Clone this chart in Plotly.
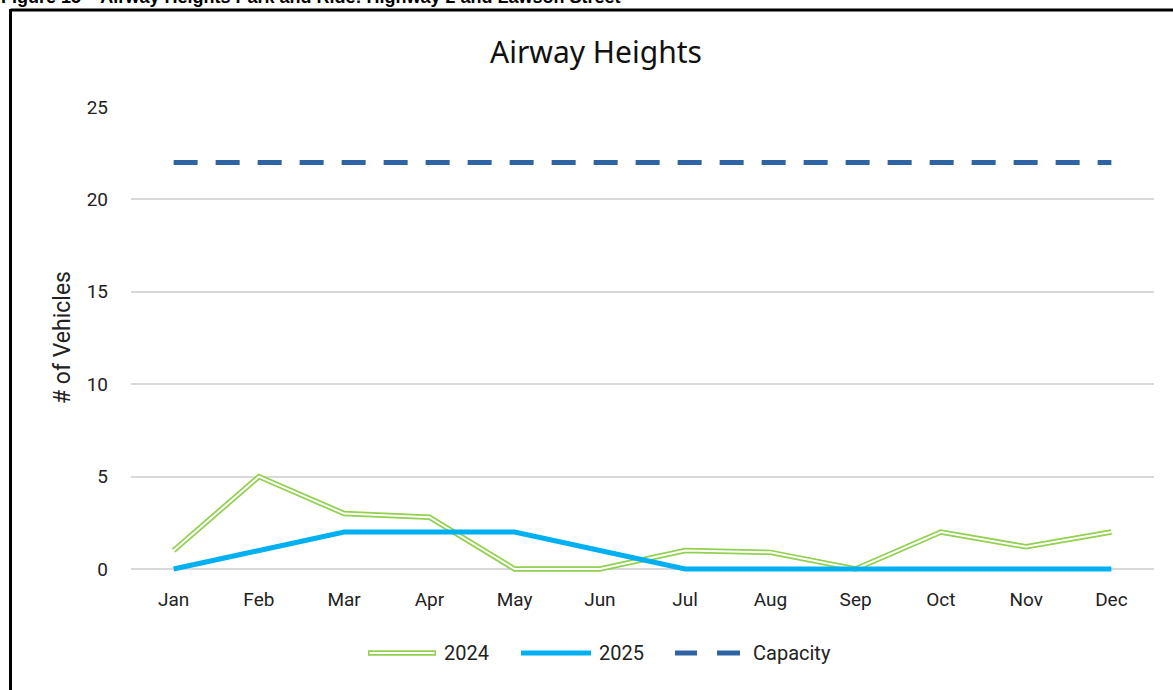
import plotly.graph_objects as go

# Monthly vehicle counts at the Airway Heights park and ride
months = ["Jan", "Feb", "Mar", "Apr", "May", "Jun", "Jul", "Aug", "Sep", "Oct", "Nov", "Dec"]
vehicles_2024 = [1, 5, 3, 2.8, 0, 0, 1, 0.9, 0, 2, 1.2, 2]
vehicles_2025 = [0, 1, 2, 2, 2, 1, 0, 0, 0, 0, 0, 0]
capacity = [22] * 12
y_ticks = [0, 5, 10, 15, 20, 25]

GREEN = "#92D050"
BLUE = "#00B0F0"
NAVY = "#2E64A4"
FONT = "Roboto"

W, H = 1173, 690
L, R, T, B = 131, 19, 107, 117
PW, PH = W - L - R, H - T - B
ZERO_PX = 569                      # pixel row of the value 0
UNIT_PX = (ZERO_PX - T) / 25.0     # pixels per vehicle
Y_MIN = -(H - B - ZERO_PX) / UNIT_PX   # a little room below 0 so thick lines are not cut


def px_x(px):
    return (px - L) / PW


def px_y(py):
    return (H - B - py) / PH


fig = go.Figure()

# 2024: compound (double) line -> thick green stroke with a white core
fig.add_trace(go.Scatter(x=months, y=vehicles_2024, mode="lines", name="2024",
                         line=dict(color=GREEN, width=5.5), showlegend=False,
                         hoverinfo="skip"))
fig.add_trace(go.Scatter(x=months, y=vehicles_2024, mode="lines", name="2024",
                         line=dict(color="white", width=2), showlegend=False))
fig.add_trace(go.Scatter(x=months, y=vehicles_2025, mode="lines", name="2025",
                         line=dict(color=BLUE, width=5), showlegend=False))
fig.add_trace(go.Scatter(x=months, y=capacity, mode="lines", name="Capacity",
                         line=dict(color=NAVY, width=5, dash="24px,18px"),
                         showlegend=False))

shapes = []
annotations = []

# Frame around the chart
shapes.append(dict(type="line", xref="paper", yref="paper",
                   x0=px_x(10.5), x1=px_x(W + 5), y0=px_y(10), y1=px_y(10),
                   line=dict(color="black", width=3)))
shapes.append(dict(type="line", xref="paper", yref="paper",
                   x0=px_x(10.5), x1=px_x(10.5), y0=px_y(9), y1=px_y(H + 5),
                   line=dict(color="black", width=3)))

# Legend drawn along the bottom
ly = px_y(653)
shapes.append(dict(type="line", xref="paper", yref="paper",
                   x0=px_x(368), x1=px_x(436), y0=ly, y1=ly,
                   line=dict(color=GREEN, width=5.5)))
shapes.append(dict(type="line", xref="paper", yref="paper",
                   x0=px_x(369.5), x1=px_x(434.5), y0=ly, y1=ly,
                   line=dict(color="white", width=2)))
shapes.append(dict(type="line", xref="paper", yref="paper",
                   x0=px_x(521), x1=px_x(591), y0=ly, y1=ly,
                   line=dict(color=BLUE, width=5)))
for a, b in [(675, 697), (717, 740)]:
    shapes.append(dict(type="line", xref="paper", yref="paper",
                       x0=px_x(a), x1=px_x(b), y0=ly, y1=ly,
                       line=dict(color=NAVY, width=5)))
for label, xpos in [("2024", 442), ("2025", 597), ("Capacity", 751)]:
    annotations.append(dict(text=label, xref="paper", yref="paper",
                            x=px_x(xpos), y=ly, xanchor="left", yanchor="middle",
                            showarrow=False, font=dict(family=FONT, size=20, color="#222")))

# Axis title
annotations.append(dict(text="# of Vehicles", xref="paper", yref="paper",
                        x=px_x(62), y=px_y(338), textangle=-90,
                        xanchor="center", yanchor="middle", showarrow=False,
                        font=dict(family="Liberation Sans Narrow, Roboto", size=23, color="#222")))

# Chart title
annotations.append(dict(text="Airway Heights", xref="paper", yref="paper",
                        x=px_x(596), y=px_y(52), xanchor="center", yanchor="middle",
                        showarrow=False,
                        font=dict(family="Noto Sans", size=30, color="#111")))

# Figure caption above the frame
annotations.append(dict(text="<b>Figure 15 – Airway Heights Park and Ride: Highway 2 and Lawson Street</b>",
                        xref="paper", yref="paper", x=px_x(-1), y=px_y(-3),
                        xanchor="left", yanchor="middle", showarrow=False,
                        font=dict(family="Liberation Sans Narrow, Liberation Sans", size=18, color="black")))

fig.update_layout(
    width=W, height=H,
    margin=dict(l=L, r=R, t=T, b=B, pad=0),
    paper_bgcolor="white", plot_bgcolor="white",
    showlegend=False,
    shapes=shapes, annotations=annotations,
    font=dict(family=FONT, size=19, color="#222"),
)
fig.update_xaxes(type="category", categoryorder="array", categoryarray=months,
                 range=[-0.5, 11.5], showgrid=False, zeroline=False, showline=False,
                 ticks="", ticklabelstandoff=13,
                 tickfont=dict(family=FONT, size=19, color="#222"))
fig.update_yaxes(range=[Y_MIN, 25], tickvals=y_ticks, showgrid=True,
                 gridcolor="#D9D9D9", gridwidth=1.5, zeroline=False, showline=False,
                 ticks="", ticklabelstandoff=22,
                 tickfont=dict(family=FONT, size=19, color="#222"))

fig.write_html("out.html")
